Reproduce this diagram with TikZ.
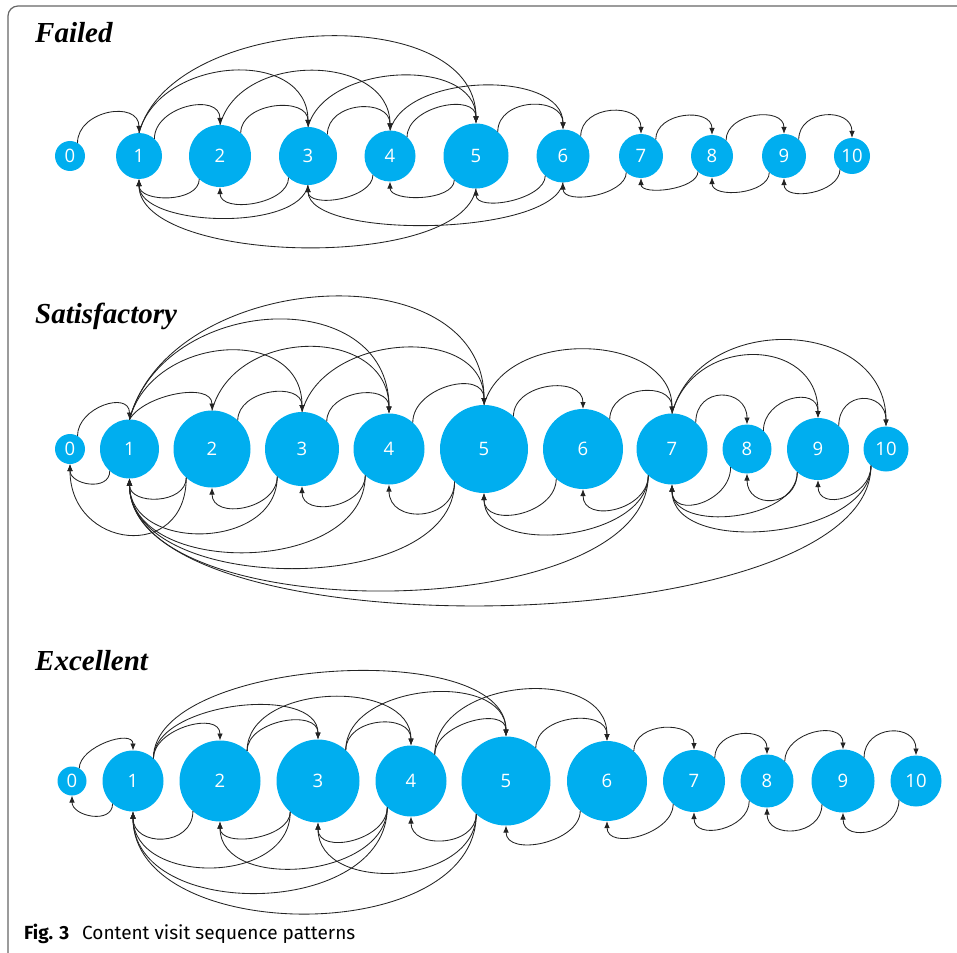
\documentclass[tikz,border=0pt]{standalone}
\usepackage{fontspec}
\setmainfont{Liberation Serif}
\newfontfamily\labelfont{Open Sans}
\newfontfamily\capfont{Fira Sans}
\usetikzlibrary{arrows.meta, positioning}
\definecolor{visitblue}{RGB}{0,174,239}
\definecolor{arcgray}{RGB}{35,35,35}
\tikzset{
  visit/.style = {circle, fill=visitblue, text=white, inner sep=0pt, outer sep=0pt, font=\labelfont\fontsize{18.5}{18.5}\selectfont},
  edge/.style = {-{Latex[length=7pt,width=5.5pt]}, draw=arcgray, line width=0.85pt},
  fwd/.style = {out=90, in=90},
  bwd/.style = {out=-90, in=-90},
  title/.style = {anchor=base west, inner sep=0pt, font=\bfseries\itshape\fontsize{29}{31}\selectfont},
  frame/.style = {draw=black!60, line width=1.2pt, rounded corners=10pt}
}

\begin{document}
\begin{tikzpicture}[x=1pt, y=1pt]
\useasboundingbox (0,0) rectangle (957,-952);

% Outer frame
\draw[frame] (8,-980) -- (8,-6) -- (990,-6);

% Failed
\node[title] (tfail) at (35,-43) {Failed};
\node[visit, minimum size=30pt] (f0) at (70,-156) {0};
\node[visit, minimum size=46pt, right=31pt of f0] (f1) {1};
\node[visit, minimum size=62pt, right=27pt of f1] (f2) {2};
\node[visit, minimum size=58pt, right=28pt of f2] (f3) {3};
\node[visit, minimum size=51pt, right=27.5pt of f3] (f4) {4};
\node[visit, minimum size=65pt, right=28pt of f4] (f5) {5};
\node[visit, minimum size=53pt, right=28pt of f5] (f6) {6};
\node[visit, minimum size=44pt, right=29.5pt of f6] (f7) {7};
\node[visit, minimum size=42pt, right=28pt of f7] (f8) {8};
\node[visit, minimum size=44pt, right=29pt of f8] (f9) {9};
\node[visit, minimum size=36pt, right=28pt of f9] (f10) {10};

\draw[edge] (f0.60) to[fwd, distance=33pt] (f1.north);
\draw[edge] (f1.48) to[fwd, distance=33pt] (f2.north);
\draw[edge] (f1.north) to[fwd, out=75, distance=80pt] (f3.north);
\draw[edge] (f1.north) to[fwd, out=75, distance=124pt] (f5.north);
\draw[edge] (f2.48) to[fwd, distance=31pt] (f3.north);
\draw[edge] (f2.north) to[fwd, out=75, distance=77pt] (f4.north);
\draw[edge] (f3.48) to[fwd, distance=33pt] (f4.north);
\draw[edge] (f3.north) to[fwd, out=75, distance=67pt] (f5.north);
\draw[edge] (f4.48) to[fwd, distance=31pt] (f5.north);
\draw[edge] (f4.north) to[fwd, out=75, distance=60pt] (f6.north);
\draw[edge] (f5.48) to[fwd, distance=34pt] (f6.north);
\draw[edge] (f6.48) to[fwd, distance=32pt] (f7.north);
\draw[edge] (f7.48) to[fwd, distance=28pt] (f8.north);
\draw[edge] (f8.48) to[fwd, distance=28pt] (f9.north);
\draw[edge] (f9.48) to[fwd, distance=31pt] (f10.north);

\draw[edge] (f2.228) to[bwd, distance=24pt] (f1.south);
\draw[edge] (f3.south) to[bwd, out=-100, distance=48pt] (f1.south);
\draw[edge] (f5.south) to[bwd, out=-100, distance=85pt] (f1.south);
\draw[edge] (f3.228) to[bwd, distance=27pt] (f2.south);
\draw[edge] (f4.228) to[bwd, distance=24pt] (f3.south);
\draw[edge] (f6.south) to[bwd, out=-100, distance=55pt] (f3.south);
\draw[edge] (f5.228) to[bwd, distance=21pt] (f4.south);
\draw[edge] (f6.228) to[bwd, distance=24pt] (f5.south);
\draw[edge] (f7.228) to[bwd, distance=23pt] (f6.south);
\draw[edge] (f8.228) to[bwd, distance=18pt] (f7.south);
\draw[edge] (f9.228) to[bwd, distance=22pt] (f8.south);
\draw[edge] (f10.228) to[bwd, distance=24pt] (f9.south);

% Satisfactory
\node[title] (tsat) at (35,-323) {Satisfactory};
\node[visit, minimum size=30pt] (s0) at (70,-449) {0};
\node[visit, minimum size=59pt, right=15pt of s0] (s1) {1};
\node[visit, minimum size=77pt, right=14.5pt of s1] (s2) {2};
\node[visit, minimum size=74pt, right=14.5pt of s2] (s3) {3};
\node[visit, minimum size=71pt, right=14.5pt of s3] (s4) {4};
\node[visit, minimum size=88pt, right=15.5pt of s4] (s5) {5};
\node[visit, minimum size=80pt, right=15pt of s5] (s6) {6};
\node[visit, minimum size=71pt, right=13.5pt of s6] (s7) {7};
\node[visit, minimum size=49pt, right=15pt of s7] (s8) {8};
\node[visit, minimum size=62pt, right=15.5pt of s8] (s9) {9};
\node[visit, minimum size=45pt, right=14.5pt of s9] (s10) {10};

\draw[edge] (s0.60) to[fwd, distance=29pt] (s1.north);
\draw[edge] (s1.north) to[fwd, out=60, distance=29pt] (s2.north);
\draw[edge] (s1.north) to[fwd, out=75, distance=88pt] (s3.north);
\draw[edge] (s1.north) to[fwd, out=75, distance=131pt] (s4.north);
\draw[edge] (s1.north) to[fwd, out=75, distance=156pt] (s5.north);
\draw[edge] (s2.48) to[fwd, distance=31pt] (s3.north);
\draw[edge] (s2.north) to[fwd, out=75, distance=88pt] (s4.north);
\draw[edge] (s3.48) to[fwd, distance=31pt] (s4.north);
\draw[edge] (s3.north) to[fwd, out=75, distance=82pt] (s5.north);
\draw[edge] (s4.48) to[fwd, distance=36pt] (s5.north);
\draw[edge] (s5.48) to[fwd, distance=34pt] (s6.north);
\draw[edge] (s5.north) to[fwd, out=75, distance=81pt] (s7.north);
\draw[edge] (s6.48) to[fwd, distance=33pt] (s7.north);
\draw[edge] (s7.48) to[fwd, distance=37pt] (s8.north);
\draw[edge] (s7.north) to[fwd, out=75, distance=82pt] (s9.north);
\draw[edge] (s7.north) to[fwd, out=75, distance=108pt] (s10.north);
\draw[edge] (s8.48) to[fwd, distance=33pt] (s9.north);
\draw[edge] (s9.48) to[fwd, distance=36pt] (s10.north);

\draw[edge] (s1.228) to[bwd, distance=21pt] (s0.south);
\draw[edge] (s2.228) to[bwd, distance=85pt] (s0.south);
\draw[edge] (s2.228) to[bwd, distance=27pt] (s1.south);
\draw[edge] (s3.228) to[bwd, distance=74pt] (s1.south);
\draw[edge] (s3.228) to[bwd, distance=33pt] (s2.south);
\draw[edge] (s4.228) to[bwd, distance=100pt] (s1.south);
\draw[edge] (s4.228) to[bwd, distance=32pt] (s3.south);
\draw[edge] (s5.228) to[bwd, distance=117pt] (s1.south);
\draw[edge] (s5.228) to[bwd, distance=40pt] (s4.south);
\draw[edge] (s6.228) to[bwd, distance=36pt] (s5.south);
\draw[edge] (s7.228) to[bwd, distance=65pt] (s5.south);
\draw[edge] (s7.228) to[bwd, distance=35pt] (s6.south);
\draw[edge] (s7.228) to[bwd, distance=151pt] (s1.south);
\draw[edge] (s8.228) to[bwd, distance=35pt] (s7.south);
\draw[edge] (s9.228) to[bwd, distance=49pt] (s7.south);
\draw[edge] (s9.228) to[bwd, distance=36pt] (s8.south);
\draw[edge] (s10.228) to[bwd, distance=177pt] (s1.south);
\draw[edge] (s10.228) to[bwd, distance=73pt] (s7.south);
\draw[edge] (s10.228) to[bwd, distance=32pt] (s9.south);

% Excellent
\node[title] (texc) at (35,-670) {Excellent};
\node[visit, minimum size=29pt] (e0) at (72,-781) {0};
\node[visit, minimum size=61pt, right=16pt of e0] (e1) {1};
\node[visit, minimum size=81pt, right=16pt of e1] (e2) {2};
\node[visit, minimum size=83pt, right=16pt of e2] (e3) {3};
\node[visit, minimum size=71pt, right=16pt of e3] (e4) {4};
\node[visit, minimum size=89pt, right=15pt of e4] (e5) {5};
\node[visit, minimum size=80pt, right=16.5pt of e5] (e6) {6};
\node[visit, minimum size=62pt, right=16pt of e6] (e7) {7};
\node[visit, minimum size=53pt, right=15.5pt of e7] (e8) {8};
\node[visit, minimum size=63pt, right=18pt of e8] (e9) {9};
\node[visit, minimum size=51pt, right=16pt of e9] (e10) {10};

\draw[edge] (e0.60) to[fwd, distance=22pt] (e1.north);
\draw[edge] (e1.48) to[fwd, distance=30pt] (e2.north);
\draw[edge] (e1.48) to[fwd, distance=56pt] (e3.north);
\draw[edge] (e1.48) to[fwd, distance=100pt] (e5.north);
\draw[edge] (e2.48) to[fwd, distance=31pt] (e3.north);
\draw[edge] (e2.48) to[fwd, distance=68pt] (e4.north);
\draw[edge] (e3.48) to[fwd, distance=33pt] (e4.north);
\draw[edge] (e3.48) to[fwd, distance=67pt] (e5.north);
\draw[edge] (e4.48) to[fwd, distance=31pt] (e5.north);
\draw[edge] (e4.48) to[fwd, distance=77pt] (e6.north);
\draw[edge] (e5.48) to[fwd, distance=33pt] (e6.north);
\draw[edge] (e6.48) to[fwd, distance=30pt] (e7.north);
\draw[edge] (e7.48) to[fwd, distance=29pt] (e8.north);
\draw[edge] (e8.48) to[fwd, distance=30pt] (e9.north);
\draw[edge] (e9.48) to[fwd, distance=33pt] (e10.north);

\draw[edge] (e1.228) to[bwd, distance=21pt] (e0.south);
\draw[edge] (e2.228) to[bwd, distance=36pt] (e1.south);
\draw[edge] (e3.228) to[bwd, distance=74pt] (e1.south);
\draw[edge] (e3.228) to[bwd, distance=27pt] (e2.south);
\draw[edge] (e4.228) to[bwd, distance=111pt] (e1.south);
\draw[edge] (e4.228) to[bwd, distance=71pt] (e2.south);
\draw[edge] (e4.228) to[bwd, distance=33pt] (e3.south);
\draw[edge] (e5.228) to[bwd, distance=134pt] (e1.south);
\draw[edge] (e5.228) to[bwd, distance=72pt] (e3.south);
\draw[edge] (e5.228) to[bwd, distance=33pt] (e4.south);
\draw[edge] (e6.228) to[bwd, distance=32pt] (e5.south);
\draw[edge] (e7.228) to[bwd, distance=30pt] (e6.south);
\draw[edge] (e8.228) to[bwd, distance=29pt] (e7.south);
\draw[edge] (e9.228) to[bwd, distance=32pt] (e8.south);
\draw[edge] (e10.228) to[bwd, distance=32pt] (e9.south);

% Caption
\node[anchor=base west, inner sep=0pt, font=\capfont\fontsize{19}{19}\selectfont] (caption) at (24,-939) {\textbf{Fig. 3}\hspace{13pt}Content visit sequence patterns};

\end{tikzpicture}
\end{document}
